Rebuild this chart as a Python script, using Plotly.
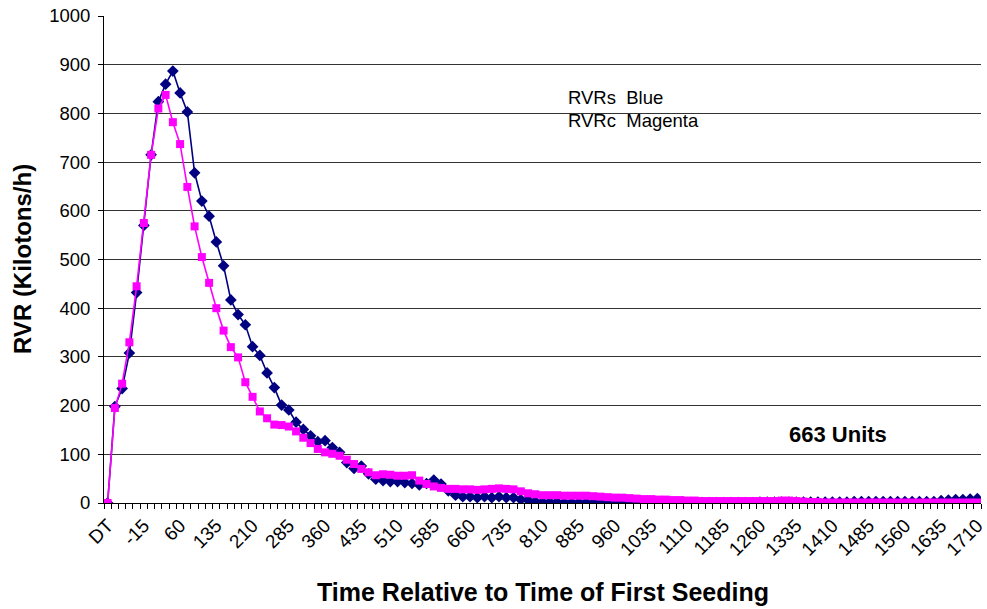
import plotly.graph_objects as go

# Categories: DT, then -75 .. 1710 step 15
categories = ["DT"] + [str(v) for v in range(-75, 1711, 15)]

rvrs_blue = [
    0, 198, 235, 308, 432, 570, 715, 824, 860, 887,
    842, 803, 678, 620, 589, 536, 487, 417, 387, 366,
    321, 303, 267, 237, 201, 191, 166, 151, 138, 126,
    128, 114, 104, 83, 71, 76, 60, 49, 46, 44,
    44, 42, 40, 37, 40, 47, 39, 25, 16, 13,
    13, 11, 13, 11, 13, 11, 11, 7, 6, 3,
    2, 2, 2, 1, 1, 1, 1, 1, 1, 1,
    1, 1, 1, 1, 1, 1, 1, 1, 1, 1,
    1, 1, 1, 1, 1, 1, 1, 1, 1, 1,
    2, 2, 2, 2, 2, 2, 2, 2, 2, 2,
    2, 2, 2, 3, 3, 3, 3, 3, 3, 3,
    3, 3, 3, 3, 3, 5, 6, 7, 7, 8,
    9,
]

rvrc_magenta = [
    0, 195, 245, 330, 445, 575, 715, 810, 838, 782,
    737, 649, 568, 505, 452, 400, 354, 320, 299, 248,
    218, 188, 174, 161, 160, 157, 147, 134, 123, 111,
    104, 101, 97, 89, 80, 70, 63, 57, 59, 58,
    56, 56, 57, 46, 39, 34, 31, 29, 29, 28,
    28, 27, 28, 29, 30, 29, 28, 24, 20, 18,
    16, 16, 16, 15, 15, 15, 15, 14, 13, 12,
    11, 11, 10, 9, 8, 8, 7, 7, 6, 6,
    5, 5, 4, 4, 4, 4, 4, 4, 4, 4,
    4, 4, 4, 5, 5, 4, 3, 2, 2, 1,
    1, 1, 1, 1, 1, 1, 1, 1, 1, 1,
    1, 1, 1, 1, 1, 1, 1, 1, 1, 1,
    1,
]

tick_idx = list(range(0, len(categories), 5))
tick_text = [categories[i] for i in tick_idx]

FONT = "Arial, Liberation Sans, sans-serif"
xs = list(range(len(categories)))

fig = go.Figure()
fig.add_trace(go.Scatter(
    x=xs, y=rvrs_blue, mode="lines+markers", name="RVRs",
    line=dict(color="#000080", width=1.6),
    marker=dict(symbol="diamond", size=9, color="#000080"),
))
fig.add_trace(go.Scatter(
    x=xs, y=rvrc_magenta, mode="lines+markers", name="RVRc",
    line=dict(color="#FF00FF", width=1.6),
    marker=dict(symbol="square", size=8, color="#FF00FF"),
))

fig.add_annotation(x=63.3, y=832, xref="x", yref="y", text="RVRs&nbsp; Blue",
                   showarrow=False, xanchor="left", yanchor="middle",
                   font=dict(family=FONT, size=18.5, color="black"))
fig.add_annotation(x=63.3, y=785, xref="x", yref="y", text="RVRc&nbsp; Magenta",
                   showarrow=False, xanchor="left", yanchor="middle",
                   font=dict(family=FONT, size=18.5, color="black"))
fig.add_annotation(x=93.7, y=141, xref="x", yref="y", text="<b>663 Units</b>",
                   showarrow=False, xanchor="left", yanchor="middle",
                   font=dict(family=FONT, size=22, color="black"))
# axis titles
fig.add_annotation(x=0.5, y=-0.1836, xref="paper", yref="paper",
                   text="<b>Time Relative to Time of First Seeding</b>",
                   showarrow=False, xanchor="center", yanchor="middle",
                   font=dict(family=FONT, size=25, color="black"))
fig.add_annotation(x=-0.0929, y=0.5, xref="paper", yref="paper",
                   text="<b>RVR (Kilotons/h)</b>", textangle=-90,
                   showarrow=False, xanchor="center", yanchor="middle",
                   font=dict(family=FONT, size=24, color="black"))

fig.update_layout(
    width=987, height=609,
    margin=dict(l=104, r=0, t=16, b=106),
    paper_bgcolor="white", plot_bgcolor="white",
    showlegend=False,
    font=dict(family=FONT, size=17, color="black"),
)
fig.update_xaxes(
    range=[-0.5, len(categories) - 0.5],
    tickmode="array", tickvals=tick_idx, ticktext=tick_text,
    tickangle=-45, ticks="", showgrid=False, zeroline=False,
    showline=True, linecolor="black", linewidth=1,
    ticklabeloverflow="allow", ticklabelstandoff=3,
    minor=dict(tick0=0.5, dtick=1, ticks="outside", ticklen=5,
               tickcolor="black", showgrid=False),
    tickfont=dict(family=FONT, size=19),
)
fig.update_yaxes(
    range=[0, 1000], dtick=100, tick0=0,
    showgrid=True, gridcolor="#333333", gridwidth=1,
    zeroline=False, showline=True, linecolor="black", linewidth=1,
    ticks="outside", ticklen=5, tickcolor="black",
    ticklabelstandoff=4,
    tickfont=dict(family=FONT, size=18.5),
)

fig.write_html("out.html")
